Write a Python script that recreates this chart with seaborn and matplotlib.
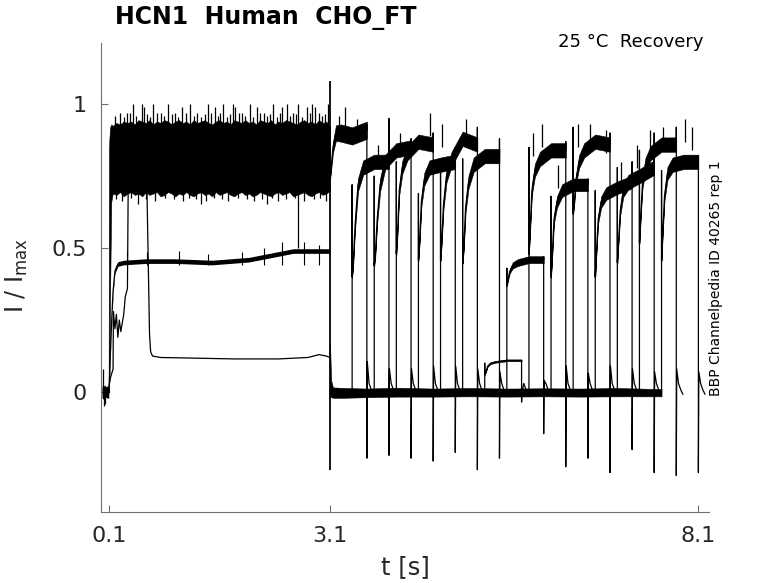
import numpy as np
import pandas as pd
import matplotlib
matplotlib.use("Agg")
import matplotlib.pyplot as plt
import seaborn as sns

# ------------------------------------------------------------------ data
# axis ticks
x_ticks = [0.1, 3.1, 8.1]
x_tick_labels = ["0.1", "3.1", "8.1"]
y_ticks = [0, 0.5, 1]
y_tick_labels = ["0", "0.5", "1"]

# baseline before the activating step (0 - 0.1 s)
pre_t = [0.005, 0.02, 0.04, 0.06, 0.08, 0.097]
pre_lo = [-0.02, -0.025, -0.02, -0.018, -0.022, -0.02]
pre_hi = [0.022, 0.018, 0.025, 0.018, 0.022, 0.018]
pre_spike_t = [0.015, 0.03, 0.05]
pre_spike_v = [0.08, -0.05, -0.04]

# noisy band formed by the fully activated sweeps during the prepulse
band_start_t = [0.095, 0.100, 0.105, 0.115, 0.13]
band_start_hi = [0.0, 0.84, 0.88, 0.92, 0.93]
band_start_lo = [0.0, 0.0, 0.05, 0.35, 0.66]
band_hi = [0.925, 0.935, 0.93, 0.94, 0.935, 0.94, 0.93, 0.945, 0.94, 0.935,
           0.945, 0.93, 0.94, 0.935, 0.945, 0.94, 0.93, 0.94, 0.945, 0.935,
           0.94, 0.93, 0.945, 0.935, 0.94, 0.945, 0.935, 0.93, 0.94, 0.945,
           0.935, 0.94, 0.93, 0.945, 0.94, 0.935, 0.945, 0.935, 0.94, 0.93,
           0.945, 0.94, 0.935, 0.945, 0.93, 0.94, 0.935, 0.945, 0.94, 0.935,
           0.93, 0.94, 0.945, 0.935, 0.94, 0.93, 0.945, 0.935, 0.94]
band_lo = [0.69, 0.685, 0.695, 0.68, 0.69, 0.695, 0.685, 0.69, 0.68, 0.695,
           0.685, 0.69, 0.695, 0.68, 0.685, 0.695, 0.69, 0.68, 0.69, 0.685,
           0.695, 0.685, 0.68, 0.69, 0.695, 0.685, 0.69, 0.68, 0.695, 0.685,
           0.69, 0.695, 0.685, 0.68, 0.69, 0.695, 0.685, 0.69, 0.68, 0.685,
           0.695, 0.69, 0.685, 0.68, 0.69, 0.695, 0.685, 0.69, 0.695, 0.68,
           0.685, 0.69, 0.695, 0.685, 0.68, 0.69, 0.695, 0.685, 0.69]
band_spike_t = [0.25, 0.35, 0.43, 0.55, 0.57, 0.70, 0.80, 0.90, 1.00, 1.09,
                1.20, 1.30, 1.44, 1.54, 1.60, 1.65, 1.78, 1.81, 1.90, 2.01,
                2.11, 2.20, 2.33, 2.45, 2.52, 2.60, 2.67, 2.79, 2.86, 2.90,
                2.95, 3.07]
band_spike_v = [0.97, 0.97, 1.00, 1.00, 0.99, 1.00, 0.97, 1.00, 0.97, 0.99,
                1.00, 0.97, 1.00, 0.99, 0.97, 1.00, 1.00, 0.99, 0.97, 1.00,
                0.99, 0.97, 1.00, 0.99, 1.00, 0.97, 1.00, 0.99, 1.00, 0.99,
                0.97, 1.00]
band_grass_t = [0.18, 0.30, 0.39, 0.47, 0.62, 0.66, 0.75, 0.85, 0.95, 1.04,
                1.14, 1.25, 1.35, 1.40, 1.49, 1.58, 1.70, 1.74, 1.86, 1.95,
                2.05, 2.15, 2.25, 2.29, 2.38, 2.42, 2.56, 2.64, 2.72, 2.83,
                2.99, 3.03]
band_grass_v = [0.96, 0.955, 0.97, 0.96, 0.965, 0.955, 0.97, 0.96, 0.965, 0.955,
                0.97, 0.96, 0.955, 0.965, 0.97, 0.96, 0.955, 0.965, 0.97, 0.96,
                0.955, 0.97, 0.96, 0.965, 0.955, 0.97, 0.96, 0.965, 0.955, 0.97,
                0.96, 0.965]
band_dip_t = [0.20, 0.28, 0.40, 0.50, 0.60, 0.73, 0.86, 0.98, 1.10, 1.18,
              1.28, 1.35, 1.42, 1.52, 1.63, 1.72, 1.85, 1.97, 2.07, 2.18,
              2.25, 2.31, 2.40, 2.50, 2.62, 2.75, 2.88, 2.97, 3.04]
band_dip_v = [0.67, 0.665, 0.675, 0.655, 0.67, 0.665, 0.675, 0.67, 0.665, 0.675,
              0.67, 0.655, 0.665, 0.675, 0.67, 0.665, 0.675, 0.67, 0.665, 0.67,
              0.655, 0.675, 0.665, 0.67, 0.675, 0.665, 0.67, 0.675, 0.665]
glitch_t = [2.66]
glitch_lo = [0.50]
glitch_hi = [0.72]

# sweep that collapses to ~0.12 during the prepulse
drop_t = [0.60, 0.615, 0.65, 0.665, 0.69, 0.8, 1.2, 1.8, 2.4, 2.8, 2.95, 3.05, 3.1]
drop_I = [0.72, 0.70, 0.20, 0.14, 0.125, 0.12, 0.118, 0.115, 0.115, 0.12, 0.13, 0.125, 0.12]
# sweep at half amplitude during the prepulse
half_t = [0.10, 0.11, 0.125, 0.14, 0.155, 0.18, 0.22, 0.3, 0.6, 1.0, 1.5, 2.0, 2.3, 2.6, 2.9, 3.1]
half_I = [0.0, 0.08, 0.18, 0.27, 0.35, 0.42, 0.445, 0.45, 0.455, 0.455, 0.45, 0.46, 0.475, 0.49, 0.49, 0.49]
half_spike_t = [0.35, 0.62, 1.05, 1.45, 1.9, 2.2, 2.45, 2.75, 2.95]
half_spike_v = [0.49, 0.485, 0.49, 0.48, 0.485, 0.5, 0.52, 0.52, 0.51]
# sweep with a delayed, stepwise onset
late_t = [0.10, 0.12, 0.155, 0.16, 0.18, 0.20, 0.22, 0.24, 0.26, 0.28, 0.30, 0.32, 0.35, 0.36, 0.38]
late_I = [0.02, 0.05, 0.08, 0.28, 0.22, 0.27, 0.19, 0.25, 0.21, 0.24, 0.27, 0.33, 0.36, 0.70, 0.74]

# capacitive transient at the end of the prepulse
step_t = 3.1
step_top = 1.08
step_bottom = -0.27

# baseline during the recovery interval
base_t = [3.10, 3.115, 3.14, 3.3, 3.6, 4.0, 4.5, 5.0, 5.5, 6.0, 6.5, 7.0, 7.3, 7.6]
base_hi = [0.17, 0.04, 0.016, 0.014, 0.012, 0.015, 0.012, 0.014, 0.012, 0.013, 0.012, 0.014, 0.012, 0.01]
base_lo = [-0.014, -0.018, -0.02, -0.02, -0.018, -0.016, -0.016, -0.015, -0.016, -0.015, -0.016, -0.015, -0.015, -0.015]

# test pulses (one per sweep)
test_start = [3.1, 3.4, 3.7, 4.0, 4.3, 4.6, 4.9, 5.2, 5.5, 5.8, 6.1, 6.4, 6.7, 7.0, 7.3, 7.6]
test_end = [3.6, 3.9, 4.2, 4.5, 4.8, 5.1, 5.4, 5.7, 6.0, 6.3, 6.6, 6.9, 7.2, 7.5, 7.8, 8.1]
start_up = [0.74, 0.72, 0.75, 0.80, 0.69, 0.78, 0.81, 0.10, 0.43, 0.85, 0.68, 0.92, 0.70, 0.78, 0.84, 0.77]
rise_dt = [0.0, 0.015, 0.04, 0.08, 0.15, 0.3, 0.5]
I_0ms = [0.74, 0.40, 0.44, 0.48, 0.46, 0.46, 0.45, 0.06, 0.37, 0.48, 0.40, 0.62, 0.40, 0.45, 0.52, 0.46]
I_15ms = [0.78, 0.45, 0.48, 0.55, 0.52, 0.52, 0.50, 0.07, 0.39, 0.56, 0.47, 0.66, 0.48, 0.52, 0.60, 0.55]
I_40ms = [0.85, 0.58, 0.60, 0.70, 0.66, 0.65, 0.64, 0.09, 0.42, 0.70, 0.60, 0.74, 0.60, 0.63, 0.72, 0.68]
I_80ms = [0.90, 0.72, 0.72, 0.78, 0.74, 0.75, 0.73, 0.10, 0.44, 0.77, 0.66, 0.80, 0.66, 0.70, 0.79, 0.76]
I_150ms = [0.90, 0.78, 0.80, 0.83, 0.78, 0.81, 0.79, 0.105, 0.45, 0.81, 0.70, 0.84, 0.69, 0.73, 0.83, 0.79]
I_300ms = [0.89, 0.80, 0.84, 0.87, 0.79, 0.88, 0.82, 0.11, 0.46, 0.84, 0.72, 0.87, 0.71, 0.75, 0.86, 0.80]
I_500ms = [0.91, 0.80, 0.85, 0.86, 0.80, 0.86, 0.82, 0.11, 0.46, 0.84, 0.72, 0.86, 0.73, 0.78, 0.86, 0.80]
test_noise = [0.03, 0.025, 0.025, 0.025, 0.025, 0.025, 0.025, 0.003, 0.012, 0.025, 0.022, 0.025, 0.022, 0.025, 0.025, 0.025]
rise_noise_scale = [0.15, 0.3, 0.6, 0.9, 1.0, 1.0, 1.0]
end_up = [0.93, 0.95, 0.88, 0.90, 0.85, 0.92, 0.88, 0.11, 0.47, 0.87, 0.74, 0.90, 0.80, 0.90, 0.92, 0.82]
end_down = [-0.23, -0.22, -0.23, -0.24, -0.21, -0.27, -0.23, -0.035, -0.145, -0.26, -0.23, -0.28, -0.20, -0.28, -0.29, -0.28]
tail_peak = [0.105, 0.08, 0.08, 0.09, 0.09, 0.08, 0.07, 0.0, 0.04, 0.09, 0.065, 0.09, 0.08, 0.07, 0.08, 0.07]
tail_dt = [0.006, 0.03, 0.06, 0.09]
tail_decay = [0.03, 0.008, -0.008]
base_level = 0.0
test_spike_t = [3.22, 3.30, 3.47, 3.75, 4.05, 4.46, 4.62, 4.95, 5.86, 5.98, 6.2,
                6.47, 6.63, 6.85, 7.05, 7.27, 7.44, 7.62, 7.92, 8.01]
test_spike_v = [0.96, 0.99, 0.95, 0.86, 0.9, 0.97, 0.93, 0.95, 0.9, 0.93, 0.79,
                0.93, 0.93, 0.91, 0.8, 0.86, 0.91, 0.92, 0.95, 0.92]

# ------------------------------------------------------------------ build line table
rows = []
def add(sweep, ts, vs):
    for t, v in zip(ts, vs):
        rows.append({"sweep": sweep, "t": t, "I": v})

add("pre", pre_t, [0.0] * len(pre_t))
add("drop", drop_t, drop_I)
add("half", half_t, half_I)
add("late", late_t, late_I)

rise_cols = [I_0ms, I_15ms, I_40ms, I_80ms, I_150ms, I_300ms, I_500ms]
for k in range(len(test_start)):
    s, e = test_start[k], test_end[k]
    ts, vs = [], []
    if k > 0:
        ts += [3.12, s, s]
        vs += [base_level, base_level, start_up[k]]
    ts += [s + d for d in rise_dt]
    vs += [col[k] for col in rise_cols]
    ts += [e, e, e + tail_dt[0], e + tail_dt[1], e + tail_dt[2], e + tail_dt[3]]
    vs += [end_up[k], end_down[k], tail_peak[k]] + tail_decay
    add(f"s{k}", ts, vs)

df = pd.DataFrame(rows)

# ------------------------------------------------------------------ plot
sns.set_style("white")
plt.rcParams["font.family"] = ["DejaVu Sans"]

fig = plt.figure(figsize=(7.78, 5.83), dpi=100)
ax = fig.add_axes([0.1298, 0.1218, 0.7815, 0.8044])

ink = "black"
# noise bands
ax.fill_between(pre_t, pre_lo, pre_hi, color=ink, lw=0)
grid_t = list(np.round(np.arange(0.15, 3.06, 0.05), 3))
bt = band_start_t + grid_t + [3.1]
bh = band_start_hi + band_hi + [0.92]
bl = band_start_lo + band_lo + [0.70]
ax.fill_between(bt, bl, bh, color=ink, lw=0.4)
ax.fill_between(half_t, np.array(half_I) - 0.008, np.array(half_I) + 0.008, color=ink, lw=0)
ax.fill_between(base_t, base_lo, base_hi, color=ink, lw=0.4)
for k in range(len(test_start)):
    rt = [test_start[k] + d for d in rise_dt]
    rv = np.array([col[k] for col in rise_cols])
    hw = test_noise[k] * np.array(rise_noise_scale)
    ax.fill_between(rt, rv - hw, rv + hw, color=ink, lw=0.4)

# spikes
ax.vlines(pre_spike_t, 0, pre_spike_v, color=ink, lw=0.9)
ax.vlines(band_spike_t, 0.9, band_spike_v, color=ink, lw=0.9)
ax.vlines(band_grass_t, 0.9, band_grass_v, color=ink, lw=0.9)
ax.vlines(band_dip_t, band_dip_v, 0.7, color=ink, lw=0.9)
ax.vlines(glitch_t, glitch_lo, glitch_hi, color=ink, lw=0.9)
ax.vlines(half_spike_t, 0.44, half_spike_v, color=ink, lw=0.8)
ax.vlines(test_spike_t, np.array(test_spike_v) - 0.08, test_spike_v, color=ink, lw=0.9)
ax.vlines([step_t], step_bottom, step_top, color=ink, lw=1.3)

# traces
sns.lineplot(data=df, x="t", y="I", units="sweep", estimator=None, sort=False,
             color=ink, lw=0.9, legend=False, ax=ax)

# axes styling
ax.set_xlim(-0.009, 8.244)
ax.set_ylim(-0.417, 1.213)
ax.set_xticks(x_ticks)
ax.set_xticklabels(x_tick_labels)
ax.set_yticks(y_ticks)
ax.set_yticklabels(y_tick_labels)
ax.tick_params(bottom=True, left=True, direction="in", length=5, width=0.8,
               color="#707070", labelsize=16, labelcolor="#262626", pad=10)
for side in ["top", "right"]:
    ax.spines[side].set_visible(False)
for side in ["left", "bottom"]:
    ax.spines[side].set_color("#707070")
    ax.spines[side].set_linewidth(0.8)
ax.set_xlabel("")
ax.set_ylabel("")

W, H = 778, 583
fig.text(405 / W, 1 - 567 / H, "t [s]", fontsize=17.5, color="#262626",
         ha="center", va="center")
fig.text(17 / W, 1 - 276 / H, r"$\mathregular{I\ /\ I_{max}}$", fontsize=17,
         color="#262626", rotation=90, ha="center", va="center")
fig.text(115 / W, 1 - 18 / H, "HCN1  Human  CHO_FT", fontsize=17,
         fontweight="bold", color="black", ha="left", va="center")
fig.text(703 / W, 1 - 46.7 / H, "25 °C  Recovery", fontsize=13,
         color="black", ha="right", va="baseline")
fig.text(716 / W, 1 - 396 / H, "BBP Channelpedia ID 40265 rep 1", fontsize=10,
         color="black", rotation=90, ha="center", va="bottom")

fig.savefig("out.png", dpi=100)
